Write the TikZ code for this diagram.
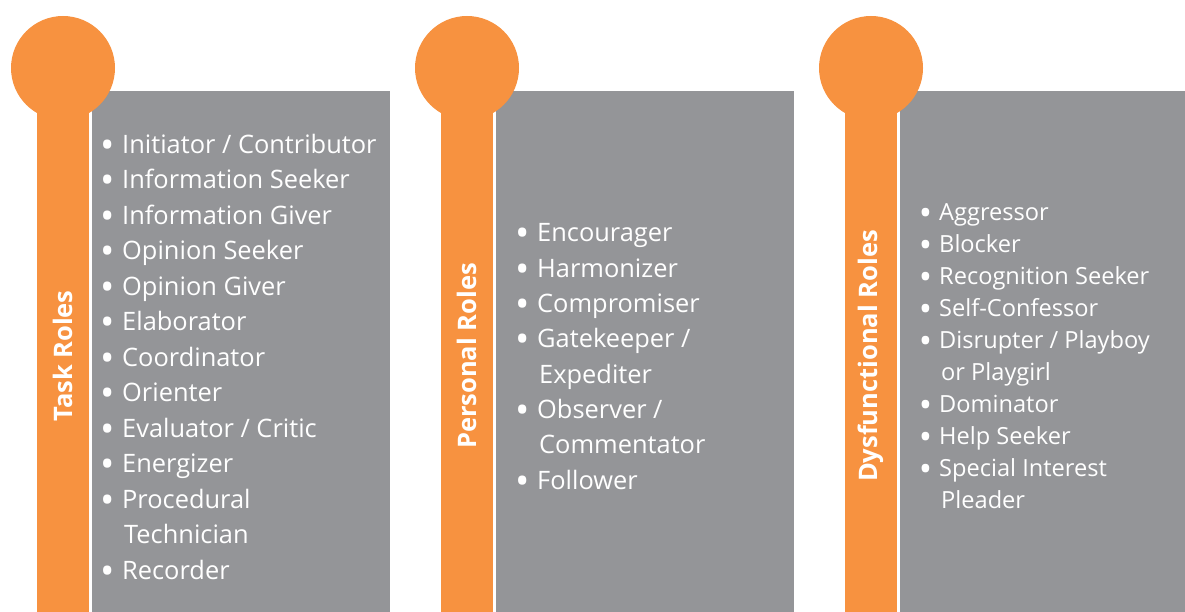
\documentclass[tikz,border=0pt]{standalone}
\usepackage{fontspec}
\setmainfont{Open Sans}
\usetikzlibrary{positioning}
\definecolor{roleorange}{RGB}{247,146,64}
\definecolor{rolegray}{RGB}{148,149,152}
\tikzset{
  stem/.style ={fill=roleorange},
  panel/.style={fill=rolegray},
  title/.style={rotate=90, text=white, inner sep=0pt,
                font=\bfseries\fontsize{25.5}{30}\selectfont},
  items/.style 2 args={anchor=base west, align=left, text=white, inner sep=0pt,
                font=\fontsize{#1}{#2}\selectfont},
}
\newcommand{\itm}{\llap{\raisebox{-5pt}{\scalebox{1.5}{\textbullet}}\hspace{7pt}}}

\begin{document}
\begin{tikzpicture}[x=1pt,y=-1pt]
  \useasboundingbox (0,0) rectangle (1185,612);

  % task roles
  \fill[panel] (92,91) rectangle (390,612);
  \fill[stem] (37,68) rectangle (89,612);
  \fill[stem] (63,68) circle (52pt);
  \node[title] (tasktitle) at (63,356) {Task Roles};
  % anchored on the last baseline
  \node[items={25.4}{35.5}] (tasklist) at (122,579) {%
    \itm Initiator / Contributor\\
    \itm Information Seeker\\
    \itm Information Giver\\
    \itm Opinion Seeker\\
    \itm Opinion Giver\\
    \itm Elaborator\\
    \itm Coordinator\\
    \itm Orienter\\
    \itm Evaluator / Critic\\
    \itm Energizer\\
    \itm Procedural\\
    \hspace{2pt}Technician\\
    \itm Recorder};

  % personal roles
  \begin{scope}[xshift=404pt]
    \fill[panel] (92,91) rectangle (390,612);
    \fill[stem] (37,68) rectangle (89,612);
    \fill[stem] (63,68) circle (52pt);
    \node[title] (perstitle) at (63,356) {Personal Roles};
    \node[items={25.4}{35.3}] (perslist) at (133,489) {%
      \itm Encourager\\
      \itm Harmonizer\\
      \itm Compromiser\\
      \itm Gatekeeper /\\
      \hspace{2pt}Expediter\\
      \itm Observer /\\
      \hspace{2pt}Commentator\\
      \itm Follower};
  \end{scope}

  % dysfunctional roles
  \begin{scope}[xshift=808pt]
    \fill[panel] (92,91) rectangle (377,612);
    \fill[stem] (37,68) rectangle (89,612);
    \fill[stem] (63,68) circle (52pt);
    \node[title] (dysftitle) at (63,356) {Dysfunctional Roles};
    \node[items={23.6}{32}] (dysflist) at (131,508) {%
      \itm Aggressor\\
      \itm Blocker\\
      \itm Recognition Seeker\\
      \itm Self-Confessor\\
      \itm Disrupter / Playboy\\
      \hspace{2pt}or Playgirl\\
      \itm Dominator\\
      \itm Help Seeker\\
      \itm Special Interest\\
      \hspace{2pt}Pleader};
  \end{scope}
\end{tikzpicture}
\end{document}
